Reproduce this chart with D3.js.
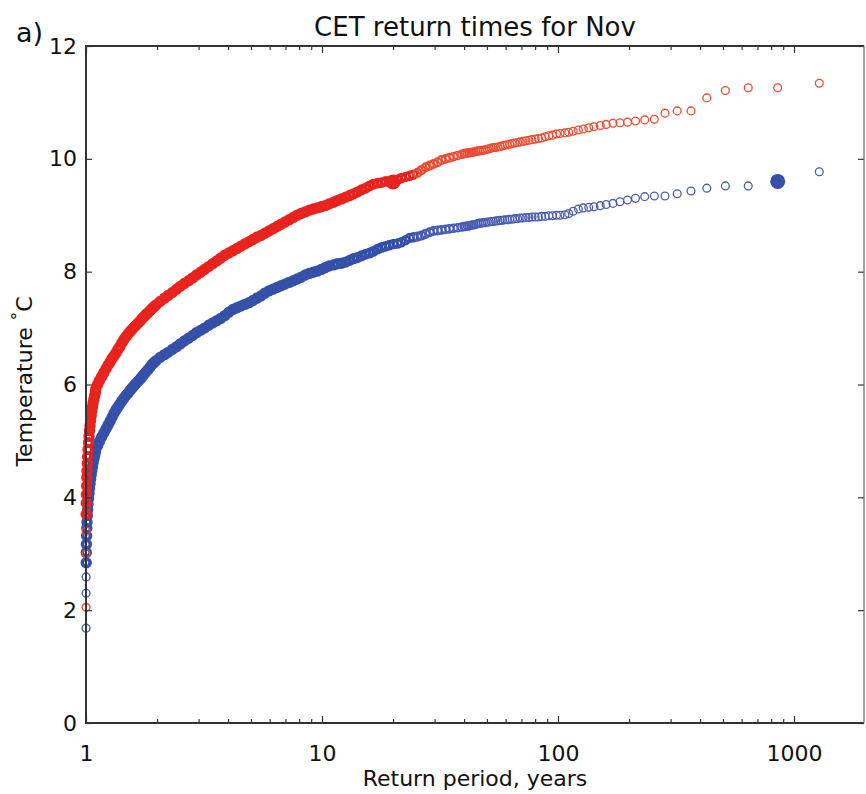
<!DOCTYPE html>
<html>
<head>
<meta charset="utf-8">
<script src="https://cdn.jsdelivr.net/npm/d3@7"></script>
<style>
  html, body { margin: 0; padding: 0; background: #fff; }
  svg { display: block; font-family: "DejaVu Sans", sans-serif; }
</style>
</head>
<body>
<svg id="chart" width="866" height="794"></svg>
<script>
// CET return times for Nov - return period (years, log) vs temperature

// Return periods shared by both ensembles (near x=1, the dense band, then the sparse tail)
const returnYears = [
  1.0004, 1.0008, 1.0012, 1.002, 1.003, 1.004, 1.006, 1.008, 1.01, 1.013,
  1.016, 1.02, 1.025, 1.03, 1.035, 1.04, 1.046, 1.052, 1.058, 1.065,
  1.072, 1.08, 1.088, 1.096,
  1.10, 1.12, 1.14, 1.165, 1.19, 1.215, 1.24, 1.265, 1.29, 1.315,
  1.34, 1.365, 1.39, 1.42, 1.45, 1.48, 1.51, 1.54, 1.57, 1.60,
  1.63, 1.665, 1.70, 1.73, 1.76, 1.795, 1.83, 1.87, 1.91, 1.945,
  1.98,
  2.06, 2.15, 2.23, 2.32,
  2.42, 2.51, 2.61, 2.72, 2.83, 2.94, 3.06, 3.18, 3.31, 3.44,
  3.58, 3.72, 3.87, 4.03, 4.19, 4.36, 4.53, 4.71, 4.90, 5.10,
  5.30, 5.51, 5.73, 5.96, 6.20, 6.45, 6.71, 6.98, 7.26, 7.55,
  7.85, 8.16, 8.49, 8.83, 9.18, 9.55, 9.93, 10.3, 10.7, 11.2,
  11.6, 12.1, 12.6, 13.1, 13.6, 14.1, 14.7, 15.3, 15.9, 16.5,
  17.2, 17.9, 18.6, 19.3, 20.1, 20.9, 21.7, 22.6, 23.5, 24.4,
  25.4, 26.4, 27.5, 28.6, 29.7, 30.9, 32.1, 33.4, 34.7, 36.1,
  37.6, 39.1,
  40.0, 40.6, 41.3, 42.0, 42.7, 43.4, 44.1, 44.9, 45.7, 46.5,
  47.4, 48.3, 49.2, 50.2, 51.2, 52.2, 53.3, 54.5, 55.7, 56.9,
  58.2, 59.5, 61.0, 62.4, 64.0, 65.6, 67.4, 69.2, 71.1, 73.1,
  75.3, 77.6, 80.0, 82.6, 85.3, 88.3, 91.4, 94.8, 98.5, 102,
  107, 111, 116, 122, 128, 135, 142, 151, 160, 171,
  183, 197, 213, 233, 256, 284, 320, 366, 427, 512,
  640, 853, 1280
];

// red ensemble temperatures (°C)
const redTemps = [
  2.05, 3.0, 3.4, 3.7, 3.9, 4.05, 4.2, 4.35, 4.47, 4.6,
  4.72, 4.85, 4.97, 5.08, 5.18, 5.27, 5.36, 5.45, 5.53, 5.6,
  5.67, 5.74, 5.8, 5.86,
  5.92, 6.0, 6.07, 6.14, 6.21, 6.28, 6.34, 6.4, 6.46, 6.51,
  6.56, 6.62, 6.67, 6.74, 6.8, 6.85, 6.9, 6.94, 6.98, 7.02,
  7.05, 7.09, 7.13, 7.17, 7.2, 7.24, 7.27, 7.31, 7.35, 7.38,
  7.41,
  7.47, 7.53, 7.58, 7.63,
  7.69, 7.74, 7.79, 7.84, 7.89, 7.94, 7.99, 8.04, 8.09, 8.14,
  8.19, 8.24, 8.29, 8.33, 8.37, 8.41, 8.45, 8.49, 8.53, 8.57,
  8.61, 8.64, 8.68, 8.72, 8.76, 8.80, 8.84, 8.88, 8.92, 8.96,
  9.0, 9.03, 9.06, 9.09, 9.11, 9.13, 9.15, 9.17, 9.2, 9.23,
  9.26, 9.29, 9.32, 9.35, 9.38, 9.41, 9.45, 9.48, 9.52, 9.55,
  9.57, 9.58, 9.6, 9.6, 9.61, 9.63, 9.66, 9.68, 9.7, 9.72,
  9.75, 9.8, 9.85, 9.88, 9.91, 9.94, 9.98, 10.0, 10.02, 10.04,
  10.06, 10.08,
  10.09, 10.10, 10.10, 10.11, 10.11, 10.12, 10.12, 10.13, 10.14, 10.14,
  10.15, 10.15, 10.16, 10.17, 10.18, 10.19, 10.2, 10.2, 10.21, 10.22,
  10.23, 10.24, 10.25, 10.26, 10.27, 10.28, 10.29, 10.3, 10.31, 10.32,
  10.33, 10.34, 10.35, 10.36, 10.37, 10.39, 10.41, 10.42, 10.44, 10.45,
  10.46, 10.47, 10.49, 10.51, 10.53, 10.55, 10.57, 10.59, 10.61, 10.63,
  10.64, 10.65, 10.67, 10.69, 10.70, 10.81, 10.85, 10.85, 11.08, 11.21,
  11.26, 11.26, 11.34
];

// blue ensemble temperatures (°C)
const blueTemps = [
  1.68, 2.3, 2.59, 2.84, 3.02, 3.17, 3.32, 3.45, 3.56, 3.68,
  3.78, 3.88, 3.98, 4.07, 4.16, 4.24, 4.32, 4.4, 4.47, 4.54,
  4.61, 4.68, 4.74, 4.8,
  4.84, 4.92, 4.99, 5.07, 5.14, 5.21, 5.28, 5.35, 5.42, 5.49,
  5.55, 5.6, 5.65, 5.71, 5.76, 5.81, 5.85, 5.9, 5.94, 5.98,
  6.02, 6.06, 6.1, 6.14, 6.18, 6.22, 6.26, 6.31, 6.36, 6.39,
  6.42,
  6.48, 6.53, 6.57, 6.62,
  6.67, 6.72, 6.77, 6.82, 6.87, 6.92, 6.96, 7.0, 7.05, 7.09,
  7.13, 7.17, 7.22, 7.28, 7.33, 7.36, 7.39, 7.42, 7.45, 7.49,
  7.53, 7.57, 7.62, 7.66, 7.69, 7.72, 7.75, 7.78, 7.81, 7.84,
  7.87, 7.9, 7.94, 7.97, 7.99, 8.01, 8.04, 8.07, 8.1, 8.12,
  8.14, 8.15, 8.17, 8.2, 8.23, 8.25, 8.28, 8.31, 8.33, 8.36,
  8.4, 8.43, 8.45, 8.47, 8.49, 8.5, 8.52, 8.56, 8.6, 8.61,
  8.62, 8.64, 8.67, 8.7, 8.72, 8.73, 8.74, 8.75, 8.76, 8.77,
  8.78, 8.79,
  8.8, 8.8, 8.81, 8.81, 8.82, 8.83, 8.83, 8.84, 8.85, 8.86,
  8.86, 8.87, 8.87, 8.88, 8.88, 8.89, 8.89, 8.9, 8.9, 8.91,
  8.91, 8.92, 8.92, 8.93, 8.93, 8.94, 8.94, 8.95, 8.95, 8.96,
  8.96, 8.97, 8.97, 8.97, 8.98, 8.98, 8.99, 8.99, 9.0, 9.0,
  9.01, 9.03, 9.07, 9.11, 9.13, 9.14, 9.15, 9.17, 9.19, 9.21,
  9.24, 9.27, 9.3, 9.33, 9.34, 9.34, 9.38, 9.43, 9.48, 9.52,
  9.52, 9.6, 9.77
];

// the observed November for each ensemble (big filled dots)
const redObserved = [{ years: 20.0, temp: 9.59 }];
const blueObserved = [{ years: 853, temp: 9.6 }];

// axis ticks
const yTicks = [0, 2, 4, 6, 8, 10, 12];
const xMajorTicks = [1, 10, 100, 1000];
const xMinorTicks = [2, 3, 4, 5, 6, 7, 8, 9, 20, 30, 40, 50, 60, 70, 80, 90,
                     200, 300, 400, 500, 600, 700, 800, 900];

if (returnYears.length !== redTemps.length || returnYears.length !== blueTemps.length) {
  console.warn("length mismatch", returnYears.length, redTemps.length, blueTemps.length);
}

const svg = d3.select("#chart");
const plotLeft = 86, plotRight = 864, plotTop = 46, plotBottom = 723;

const x = d3.scaleLog().domain([1, 1980]).range([plotLeft, plotRight]);
const y = d3.scaleLinear().domain([0, 12]).range([plotBottom, plotTop]);

// dense part of each curve gets a heavier ring so it reads as a solid band
const ringWidth = d3.scaleLog().domain([12, 50]).range([3.6, 1.3]).clamp(true);
const ring = yr => yr < 1.0015 ? 1.4 : ringWidth(yr);

const series = [
  { name: "blue", temps: blueTemps, dense: "#3550a8", sparse: "#4a5cb4" },
  { name: "red",  temps: redTemps,  dense: "#e8231d", sparse: "#ee4a30" }
];

const plot = svg.append("g").attr("class", "plot");

series.forEach(s => {
  const pts = returnYears.map((yr, i) => ({ years: yr, temp: s.temps[i] }));
  plot.append("g")
    .attr("class", "series-" + s.name)
    .selectAll("circle")
    .data(pts)
    .join("circle")
    .attr("cx", d => x(d.years))
    .attr("cy", d => y(d.temp))
    .attr("r", 3.9)
    .attr("fill", "none")
    .attr("stroke", d => d.years < 25 && d.years > 1.0015 ? s.dense : s.sparse)
    .attr("stroke-width", d => ring(d.years));
});

plot.append("g").selectAll("circle")
  .data(redObserved)
  .join("circle")
  .attr("cx", d => x(d.years))
  .attr("cy", d => y(d.temp))
  .attr("r", 7.5)
  .attr("fill", "#e8231d");

plot.append("g").selectAll("circle")
  .data(blueObserved)
  .join("circle")
  .attr("cx", d => x(d.years))
  .attr("cy", d => y(d.temp))
  .attr("r", 7.5)
  .attr("fill", "#3550a8");

// axes - ticks point into the plot on all four sides
const fmt = d3.format("d");
const styleAxis = g => {
  g.select(".domain").remove();
  g.selectAll(".tick line").attr("stroke", "#333").attr("stroke-width", 1.2);
  g.selectAll(".tick text")
    .attr("fill", "#111")
    .style("font-size", "22px")
    .style("font-family", "DejaVu Sans, sans-serif");
};

svg.append("g")
  .attr("transform", `translate(0,${plotBottom})`)
  .call(d3.axisBottom(x).tickValues(xMajorTicks).tickFormat(fmt).tickSize(-7).tickPadding(22))
  .call(styleAxis);
svg.append("g")
  .attr("transform", `translate(0,${plotBottom})`)
  .call(d3.axisBottom(x).tickValues(xMinorTicks).tickFormat("").tickSize(-4))
  .call(styleAxis);
svg.append("g")
  .attr("transform", `translate(0,${plotTop})`)
  .call(d3.axisTop(x).tickValues(xMajorTicks).tickFormat("").tickSize(-7))
  .call(styleAxis);
svg.append("g")
  .attr("transform", `translate(0,${plotTop})`)
  .call(d3.axisTop(x).tickValues(xMinorTicks).tickFormat("").tickSize(-4))
  .call(styleAxis);
svg.append("g")
  .attr("transform", `translate(${plotLeft},0)`)
  .call(d3.axisLeft(y).tickValues(yTicks).tickFormat(fmt).tickSize(-6).tickPadding(9))
  .call(styleAxis);
svg.append("g")
  .attr("transform", `translate(${plotRight},0)`)
  .call(d3.axisRight(y).tickValues(yTicks).tickFormat("").tickSize(-6))
  .call(styleAxis);

// frame: left/top/bottom heavy, right edge lighter as in the source figure
const frame = svg.append("g").attr("fill", "none");
frame.append("path")
  .attr("d", `M${plotRight},${plotTop}H${plotLeft}V${plotBottom}H${plotRight}`)
  .attr("stroke", "#333").attr("stroke-width", 2);
frame.append("path")
  .attr("d", `M${plotRight},${plotTop}V${plotBottom}`)
  .attr("stroke", "#666").attr("stroke-width", 1.2);

// title, panel letter, axis labels
svg.append("text")
  .attr("x", (plotLeft + plotRight) / 2).attr("y", 36)
  .attr("text-anchor", "middle")
  .style("font-size", "26px")
  .attr("fill", "#111")
  .text("CET return times for Nov");

svg.append("text")
  .attr("x", 16).attr("y", 42)
  .style("font-size", "27px")
  .attr("fill", "#111")
  .text("a)");

svg.append("text")
  .attr("x", (plotLeft + plotRight) / 2).attr("y", 786)
  .attr("text-anchor", "middle")
  .style("font-size", "22px")
  .attr("fill", "#111")
  .text("Return period, years");

const yLabel = svg.append("text")
  .attr("transform", `translate(32,${(plotTop + plotBottom) / 2 - 3}) rotate(-90)`)
  .attr("text-anchor", "middle")
  .style("font-size", "22px")
  .attr("fill", "#111");
yLabel.append("tspan").text("Temperature ");
yLabel.append("tspan").attr("dy", -8).style("font-size", "17px").text("\u00b0");
yLabel.append("tspan").attr("dy", 8).text("C");
</script>
</body>
</html>
